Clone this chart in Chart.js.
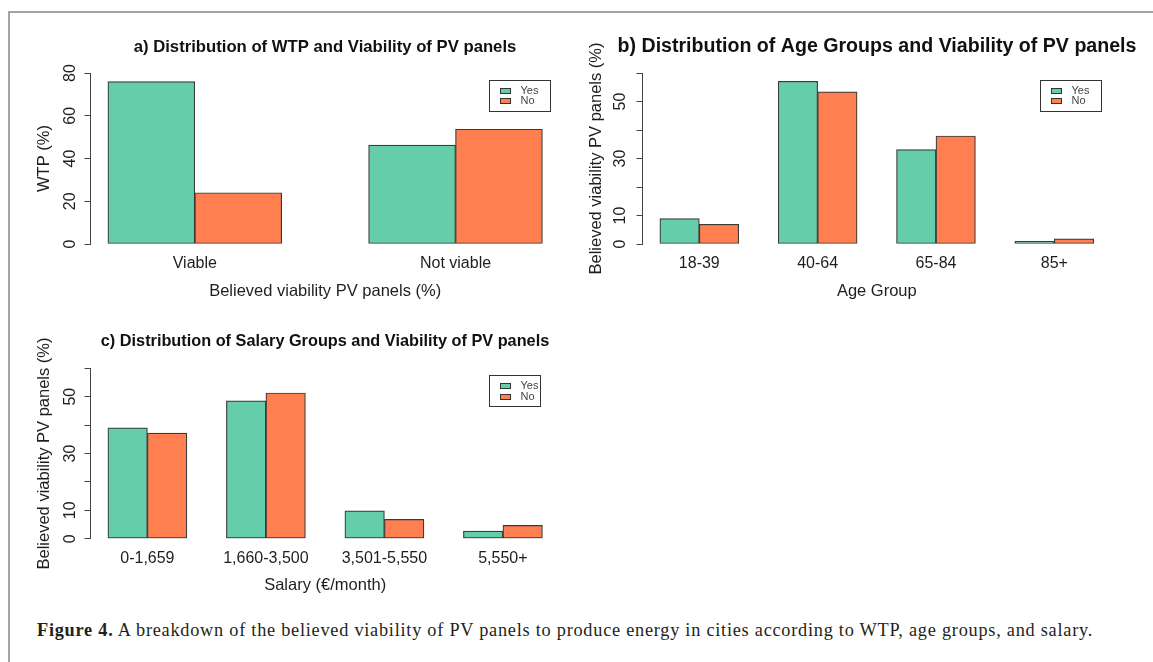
<!DOCTYPE html>
<html>
<head>
<meta charset="utf-8">
<script src="https://cdn.jsdelivr.net/npm/chart.js@4.4.1/dist/chart.umd.min.js"></script>
<style>
  html, body { margin: 0; padding: 0; background: #fff; }
  body { width: 1153px; height: 662px; position: relative; overflow: hidden; }
  #frame {
    position: absolute; left: 8px; top: 11px; width: 1200px; height: 700px;
    border-top: 2px solid #a3a3a3; border-left: 2px solid #a3a3a3;
  }
  canvas { position: absolute; }
  #caption {
    position: absolute; left: 37px; top: 621px; white-space: nowrap;
    font-family: "Liberation Serif", "Times New Roman", serif;
    font-size: 18.3px; line-height: 1; color: #231f20;
  }
</style>
</head>
<body>
<div id="frame"></div>
<canvas id="chartWtp" width="650" height="310" style="left:0;top:0"></canvas>
<canvas id="chartSalary" width="650" height="280" style="left:0;top:320px"></canvas>
<canvas id="chartAge" width="614" height="310" style="left:570px;top:0"></canvas>
<div id="caption"><b>Figure 4.</b> A breakdown of the believed viability of PV panels to produce energy in cities according to WTP, age groups, and salary.</div>

<script>
// ---- data (%) ----
const seriesNames = ['Yes', 'No'];

const wtpCategories = ['Viable', 'Not viable'];
const wtpYes = [76.0, 46.3];
const wtpNo  = [24.0, 53.7];
const wtpTickLabels = [0, 20, 40, 60, 80];

const ageCategories = ['18-39', '40-64', '65-84', '85+'];
const ageYes = [8.9, 57.1, 33.1, 0.9];
const ageNo  = [6.9, 53.4, 37.9, 1.8];
const ageTickLabels = [0, 10, 30, 50];

const salaryCategories = ['0-1,659', '1,660-3,500', '3,501-5,550', '5,550+'];
const salaryYes = [39.0, 48.5, 9.8, 2.7];
const salaryNo  = [37.2, 51.3, 6.8, 4.7];
const salaryTickLabels = [0, 10, 30, 50];

// ---- style ----
const FONT = '"Liberation Sans", Arial, sans-serif';
const C = {
  yes : '#66CDAA',
  no  : '#FF7F50',
  edge: '#3a3a3a',
  axis: '#444444',
  text: '#1e1e1e'
};

// R-style boxed legend drawn in the top-right of the plot area
const boxLegend = {
  id: 'boxLegend',
  afterDatasetsDraw(chart, args, o) {
    const { ctx, chartArea } = chart;
    const x = Math.round(chartArea.right - o.right - o.width) + 0.5;
    const y = Math.round(chartArea.top + o.top) + 0.5;
    ctx.save();
    ctx.fillStyle = '#fff';
    ctx.fillRect(x, y, o.width, o.height);
    ctx.strokeStyle = '#333';
    ctx.lineWidth = 1;
    ctx.strokeRect(x, y, o.width, o.height);
    ctx.font = '11px ' + FONT;
    ctx.textBaseline = 'middle';
    chart.data.datasets.forEach((ds, i) => {
      const cy = Math.round(y + o.rowTop + i * o.rowGap);
      ctx.fillStyle = ds.backgroundColor;
      ctx.fillRect(x + 11, cy - 2.5, 10, 5);
      ctx.strokeStyle = '#333';
      ctx.strokeRect(x + 11, cy - 2.5, 10, 5);
      ctx.fillStyle = '#444';
      ctx.fillText(ds.label, x + 31, cy);
    });
    ctx.restore();
  }
};

function buildChart(id, o) {
  const n = o.categories.length;
  const pad = 0.04 * (3 * n - 1);           // R barplot: 4% extension of the bar range
  const centers = o.categories.map((c, i) => 3 * i + 2);

  return new Chart(document.getElementById(id), {
    type: 'bar',
    data: {
      datasets: [
        {
          label          : seriesNames[0],
          data           : o.yes.map((v, i) => ({ x: 3 * i + 1.5, y: v })),
          backgroundColor: C.yes
        },
        {
          label          : seriesNames[1],
          data           : o.no.map((v, i) => ({ x: 3 * i + 2.5, y: v })),
          backgroundColor: C.no
        }
      ]
    },
    options: {
      responsive: false,
      animation : false,
      events    : [],
      datasets: {
        bar: {
          grouped           : false,
          barPercentage     : 1,
          categoryPercentage: 1,
          borderColor       : C.edge,
          borderWidth       : 1.2,
          borderSkipped     : false
        }
      },
      layout: { padding: 0 },
      plugins: {
        legend : { display: false },
        tooltip: { enabled: false },
        title  : {
          display: true,
          text   : o.title,
          color  : '#111',
          font   : { family: FONT, size: o.titleSize, weight: 'bold' },
          padding: o.titlePad
        },
        boxLegend: o.legend
      },
      scales: {
        x: {
          type  : 'linear',
          offset: false,
          min   : 1 - pad,
          max   : 3 * n + pad,
          grid  : { display: false, drawTicks: false },
          border: { display: false },
          afterBuildTicks: s => { s.ticks = centers.map(v => ({ value: v })); },
          afterFit: s => { s.height = o.xHeight; },
          ticks: {
            autoSkip   : false,
            minRotation: 0,
            maxRotation: 0,
            padding    : o.xTickPad,
            color      : C.text,
            font       : { family: FONT, size: 16 },
            callback   : (v, i) => o.categories[i]
          },
          title: {
            display: true,
            text   : o.xTitle,
            color  : C.text,
            font   : { family: FONT, size: 16.5 },
            padding: { top: 0, bottom: o.xTitlePad }
          }
        },
        y: {
          min: 0,
          max: o.yMax,
          afterFit: s => { s.width = o.yWidth; },
          grid  : { drawOnChartArea: false, drawTicks: true, tickLength: 6, color: C.axis, lineWidth: 1 },
          border: { display: true, color: C.axis, width: 1 },
          ticks: {
            stepSize   : o.yStep,
            minRotation: 90,
            maxRotation: 90,
            crossAlign : 'center',
            padding    : o.yTickPad,
            color      : C.text,
            font       : { family: FONT, size: 16 },
            callback   : v => o.yLabels.includes(v) ? String(v) : ''
          },
          title: {
            display: true,
            text   : o.yTitle,
            color  : C.text,
            font   : { family: FONT, size: 16.5 },
            padding: { top: o.yTitlePad, bottom: 0 }
          }
        },
        // empty right-hand margin so the panel title centres over the plot
        margin: {
          type    : 'linear',
          position: 'right',
          grid    : { display: false, drawTicks: false },
          border  : { display: false },
          ticks   : { display: false },
          afterFit: s => { s.width = o.rightWidth; }
        }
      }
    },
    plugins: [boxLegend]
  });
}

buildChart('chartWtp', {
  categories: wtpCategories, yes: wtpYes, no: wtpNo, yLabels: wtpTickLabels,
  yMax: 80, yStep: 20,
  title: 'a) Distribution of WTP and Viability of PV panels', titleSize: 16.7,
  titlePad: { top: 37, bottom: 16 },
  xTitle: 'Believed viability PV panels (%)', yTitle: 'WTP (%)',
  yWidth: 90.5, rightWidth: 90.2, xHeight: 66,
  xTickPad: 9.7, xTitlePad: 9.1, yTickPad: 5.1, yTitlePad: 34.1,
  legend: { top: 7, right: 9.8, width: 61, height: 31, rowTop: 10, rowGap: 10.5 }
});

buildChart('chartAge', {
  categories: ageCategories, yes: ageYes, no: ageNo, yLabels: ageTickLabels,
  yMax: 60, yStep: 10,
  title: 'b) Distribution of Age Groups and Viability of PV panels', titleSize: 19.6,
  titlePad: { top: 35.2, bottom: 14.3 },
  xTitle: 'Age Group', yTitle: 'Believed viability PV panels (%)',
  yWidth: 72.5, rightWidth: 72.9, xHeight: 66,
  xTickPad: 9.7, xTitlePad: 9.1, yTickPad: 6.9, yTitlePad: 16.1,
  legend: { top: 7, right: 10.1, width: 61, height: 31, rowTop: 10, rowGap: 10.5 }
});

buildChart('chartSalary', {
  categories: salaryCategories, yes: salaryYes, no: salaryNo, yLabels: salaryTickLabels,
  yMax: 60, yStep: 10,
  title: 'c) Distribution of Salary Groups and Viability of PV panels', titleSize: 16.3,
  titlePad: { top: 11.9, bottom: 16.8 },
  xTitle: 'Salary (€/month)', yTitle: 'Believed viability PV panels (%)',
  yWidth: 90.5, rightWidth: 90.2, xHeight: 61.3,
  xTickPad: 10, xTitlePad: 4.4, yTickPad: 5.1, yTitlePad: 34.6,
  legend: { top: 6.7, right: 19.8, width: 51, height: 31, rowTop: 10, rowGap: 11 }
});

// stretch the caption to the width it has in the figure
const cap = document.getElementById('caption');
const capWidth = 1056;
const w0 = cap.getBoundingClientRect().width;
cap.style.letterSpacing = ((capWidth - w0) / cap.textContent.length) + 'px';
</script>
</body>
</html>
